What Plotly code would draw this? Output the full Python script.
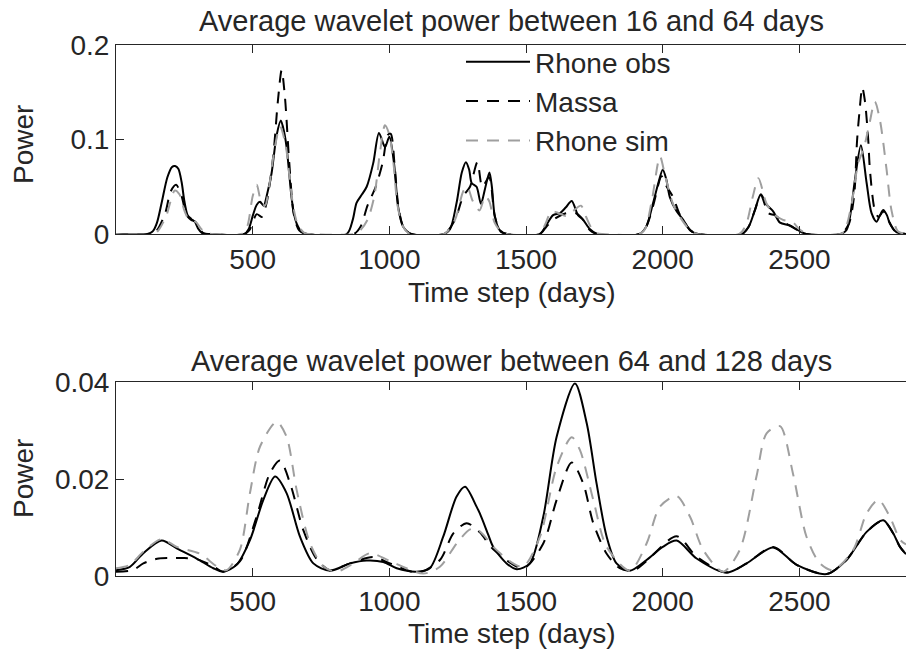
import plotly.graph_objects as go

# ---------------- data: top panel (16-64 days) ----------------
top_obs_day = [0, 115, 135, 150, 167, 188, 205, 216, 228, 240, 250, 262, 275, 288, 300, 315, 335,
               470, 485, 501, 515, 527, 540, 555, 569, 588, 603, 615, 624, 635, 642, 652, 661, 680, 700,
               844, 866, 880, 900, 917, 941, 962, 984, 1000, 1017, 1032, 1050, 1080,
               1200, 1222, 1246, 1265, 1280, 1292, 1301, 1319, 1335, 1350, 1366, 1375, 1386, 1404, 1430,
               1550, 1575, 1599, 1624, 1645, 1667, 1690, 1709, 1734, 1760,
               1915, 1940, 1965, 1985, 2000, 2013, 2026, 2051, 2075, 2100, 2130,
               2290, 2315, 2337, 2359, 2380, 2404, 2429, 2465, 2495, 2525,
               2650, 2672, 2685, 2703, 2725, 2746, 2764, 2782, 2795, 2807, 2820, 2831, 2855, 2890]
top_obs_val = [0, 0, 0.003, 0.012, 0.033, 0.06, 0.071, 0.072, 0.069, 0.055, 0.035, 0.02, 0.016, 0.013, 0.006, 0.001, 0,
               0, 0.005, 0.02, 0.031, 0.034, 0.03, 0.045, 0.064, 0.105, 0.12, 0.108, 0.092, 0.06, 0.039, 0.02, 0.011, 0.002, 0,
               0, 0.015, 0.033, 0.042, 0.05, 0.075, 0.107, 0.092, 0.103, 0.075, 0.029, 0.008, 0,
               0, 0.005, 0.033, 0.065, 0.076, 0.068, 0.054, 0.05, 0.032, 0.048, 0.065, 0.05, 0.018, 0.004, 0,
               0, 0.01, 0.02, 0.022, 0.028, 0.035, 0.02, 0.015, 0.005, 0,
               0, 0.008, 0.033, 0.055, 0.068, 0.058, 0.039, 0.024, 0.015, 0.004, 0,
               0, 0.008, 0.025, 0.042, 0.031, 0.024, 0.012, 0.009, 0.004, 0,
               0, 0.004, 0.018, 0.057, 0.094, 0.054, 0.022, 0.013, 0.02, 0.0254, 0.02, 0.011, 0.002, 0]

top_massa_day = [0, 130, 150, 180, 200, 220, 240, 258, 275, 290, 305, 320, 340,
                 470, 490, 515, 533, 551, 575, 592, 606, 618, 634, 651, 670, 700,
                 870, 895, 920, 950, 975, 995, 1005, 1020, 1035, 1055, 1080,
                 1200, 1240, 1270, 1295, 1322, 1340, 1365, 1385, 1405, 1430,
                 1550, 1575, 1599, 1646, 1683, 1709, 1734, 1760,
                 1915, 1940, 1965, 1996, 2015, 2038, 2060, 2080, 2105, 2130,
                 2290, 2315, 2337, 2359, 2387, 2410, 2440, 2470, 2500, 2525,
                 2650, 2680, 2700, 2711, 2720, 2730, 2740, 2752, 2758, 2776, 2790, 2807, 2825, 2850, 2890]
top_massa_val = [0, 0, 0.004, 0.022, 0.045, 0.052, 0.04, 0.02, 0.015, 0.013, 0.006, 0.001, 0,
                 0, 0.005, 0.021, 0.018, 0.033, 0.082, 0.14, 0.1735, 0.145, 0.075, 0.02, 0.004, 0,
                 0, 0.008, 0.03, 0.05, 0.075, 0.105, 0.106, 0.07, 0.025, 0.005, 0,
                 0, 0.015, 0.04, 0.05, 0.076, 0.05, 0.06, 0.02, 0.003, 0,
                 0, 0.008, 0.015, 0.022, 0.022, 0.015, 0.004, 0,
                 0, 0.008, 0.03, 0.061, 0.05, 0.039, 0.022, 0.012, 0.003, 0,
                 0, 0.008, 0.025, 0.041, 0.022, 0.02, 0.013, 0.008, 0.003, 0,
                 0, 0.01, 0.04, 0.099, 0.13, 0.155, 0.14, 0.099, 0.068, 0.025, 0.018, 0.024, 0.015, 0.003, 0]

top_sim_day = [0, 140, 160, 185, 200, 215, 232, 250, 265, 280, 295, 310, 330, 350,
               460, 480, 500, 515, 530, 545, 560, 580, 600, 620, 635, 648, 665, 690, 710,
               870, 890, 920, 945, 965, 984, 1000, 1015, 1030, 1050, 1075,
               1200, 1240, 1270, 1285, 1305, 1330, 1350, 1365, 1385, 1410, 1430,
               1550, 1570, 1593, 1620, 1646, 1675, 1701, 1720, 1740, 1760, 1780,
               1915, 1935, 1960, 1990, 2010, 2040, 2070, 2100, 2125,
               2280, 2305, 2330, 2350, 2380, 2410, 2440, 2477, 2500, 2530,
               2650, 2665, 2690, 2715, 2735, 2755, 2776, 2795, 2819, 2837, 2860, 2890]
top_sim_val = [0, 0, 0.006, 0.02, 0.035, 0.046, 0.042, 0.025, 0.016, 0.014, 0.012, 0.006, 0.001, 0,
               0, 0.008, 0.04, 0.052, 0.035, 0.03, 0.05, 0.09, 0.114, 0.095, 0.06, 0.03, 0.01, 0.001, 0,
               0, 0.003, 0.015, 0.04, 0.085, 0.115, 0.105, 0.075, 0.03, 0.008, 0,
               0, 0.015, 0.045, 0.05, 0.035, 0.025, 0.04, 0.035, 0.012, 0.002, 0,
               0, 0.01, 0.024, 0.022, 0.019, 0.025, 0.03, 0.018, 0.006, 0.001, 0,
               0, 0.005, 0.035, 0.082, 0.06, 0.03, 0.015, 0.004, 0,
               0, 0.01, 0.04, 0.059, 0.032, 0.02, 0.015, 0.012, 0.005, 0,
               0, 0.003, 0.03, 0.075, 0.09, 0.115, 0.14, 0.12, 0.068, 0.025, 0.003, 0]

# ---------------- data: bottom panel (64-128 days) ----------------
bot_obs_day = [0, 51, 100, 167, 222, 295, 356, 392, 441, 490, 539, 582, 624, 673, 722, 783, 856, 917, 978,
               1027, 1100, 1148, 1197, 1246, 1277, 1319, 1331, 1362, 1380, 1429, 1466, 1514, 1563, 1612,
               1679, 1722, 1758, 1795, 1831, 1880, 1941, 2000, 2051, 2124, 2233, 2307, 2404, 2490, 2600,
               2672, 2746, 2807, 2843, 2868, 2890]
bot_obs_val = [0.0012, 0.0019, 0.0047, 0.0073, 0.0057, 0.0036, 0.0016, 0.0009, 0.0023, 0.0074, 0.0157, 0.0205,
               0.0171, 0.0081, 0.0026, 0.0011, 0.0026, 0.0032, 0.0029, 0.0016, 0.0009, 0.0016, 0.0081, 0.0164,
               0.0184, 0.0143, 0.0129, 0.0085, 0.006, 0.0026, 0.0014, 0.0026, 0.0122, 0.0287, 0.0397, 0.0315,
               0.0191, 0.0081, 0.0026, 0.0011, 0.0033, 0.006, 0.0073, 0.0036, 0.0007, 0.0026, 0.0059, 0.0023,
               0.0004, 0.0033, 0.0091, 0.0115, 0.0088, 0.006, 0.0045]

bot_massa_day = [0, 62, 100, 156, 200, 250, 295, 356, 392, 453, 514, 563, 600, 637, 685, 734, 783, 856, 941,
                 1002, 1106, 1185, 1234, 1283, 1331, 1380, 1490, 1563, 1612, 1667, 1709, 1746, 1795, 1843,
                 1892, 1941, 2051, 2124, 2233, 2307, 2404, 2490, 2600, 2672, 2746, 2807, 2843, 2868, 2890]
bot_massa_val = [0.0009, 0.0012, 0.0026, 0.0036, 0.0037, 0.0037, 0.0035, 0.002, 0.0009, 0.003, 0.0122, 0.0212,
                 0.0238, 0.0191, 0.0095, 0.0035, 0.0012, 0.0026, 0.0039, 0.0026, 0.0007, 0.0033, 0.0088, 0.0109,
                 0.009, 0.0055, 0.0016, 0.0067, 0.0157, 0.0234, 0.0191, 0.0109, 0.0046, 0.0016, 0.0011, 0.0031,
                 0.0082, 0.004, 0.0007, 0.0026, 0.006, 0.0023, 0.0004, 0.0033, 0.0091, 0.0114, 0.0088, 0.006,
                 0.0045]

bot_sim_day = [0, 51, 100, 167, 222, 307, 368, 404, 453, 490, 527, 588, 624, 661, 710, 758, 807, 868, 929,
               1002, 1124, 1185, 1246, 1295, 1320, 1344, 1380, 1453, 1490, 1551, 1612, 1667, 1697, 1746,
               1795, 1880, 1941, 1990, 2051, 2100, 2148, 2221, 2282, 2343, 2380, 2429, 2477, 2526, 2575,
               2624, 2697, 2746, 2789, 2831, 2868, 2890]
bot_sim_val = [0.0016, 0.0023, 0.005, 0.0076, 0.006, 0.0046, 0.002, 0.0012, 0.0054, 0.0171, 0.0267, 0.0318,
               0.0287, 0.0177, 0.0067, 0.002, 0.0009, 0.0026, 0.0047, 0.0031, 0.0005, 0.0019, 0.0067, 0.0096,
               0.0096, 0.0085, 0.006, 0.0026, 0.0019, 0.0081, 0.0225, 0.0286, 0.026, 0.0157, 0.006, 0.0011,
               0.0067, 0.0143, 0.0165, 0.0122, 0.0054, 0.0009, 0.0054, 0.0205, 0.0294, 0.0309, 0.021, 0.0081,
               0.0026, 0.0012, 0.0054, 0.0129, 0.0157, 0.0122, 0.0075, 0.0065]

series_names = ["Rhone obs", "Massa", "Rhone sim"]
x_ticks = [500, 1000, 1500, 2000, 2500]
top_yticks = [0, 0.1, 0.2]
top_yticklabels = ["0", "0.1", "0.2"]
bot_yticks = [0, 0.02, 0.04]
bot_yticklabels = ["0", "0.02", "0.04"]
titles = ["Average wavelet power between 16 and 64 days",
          "Average wavelet power between 64 and 128 days"]

# ---------------- styling ----------------
FONT = "Liberation Sans, Arial, Helvetica, sans-serif"
TXT = "#262626"
FS = 28
FS_T = 29
styles = [dict(color="#000000", width=2, dash="solid"),
          dict(color="#000000", width=2, dash="12px,9px"),
          dict(color="#9f9f9f", width=2, dash="12px,9px")]

fig = go.Figure()
top = [(top_obs_day, top_obs_val), (top_massa_day, top_massa_val), (top_sim_day, top_sim_val)]
bot = [(bot_obs_day, bot_obs_val), (bot_massa_day, bot_massa_val), (bot_sim_day, bot_sim_val)]
for i, (d, v) in enumerate(top):
    fig.add_trace(go.Scatter(x=d, y=v, mode="lines", name=series_names[i], line=dict(shape="spline", smoothing=0.8, **styles[i]),
                             xaxis="x", yaxis="y", showlegend=True))
for i, (d, v) in enumerate(bot):
    fig.add_trace(go.Scatter(x=d, y=v, mode="lines", name=series_names[i], line=dict(shape="spline", smoothing=0.8, **styles[i]),
                             xaxis="x2", yaxis="y2", showlegend=False))

axis_common = dict(showgrid=False, zeroline=False, showline=True, linecolor=TXT, linewidth=1, automargin=False,
                   ticks="inside", ticklen=8, tickcolor=TXT, tickfont=dict(family=FONT, size=FS, color=TXT))

H_PLOT = 531.0
def py(ypix):
    return (576 - ypix) / H_PLOT

def px(xpix):
    return (xpix - 116) / 790.0

fig.update_layout(
    width=906, height=649,
    margin=dict(l=116, r=0, t=45, b=73, autoexpand=False),
    paper_bgcolor="white", plot_bgcolor="white",
    font=dict(family=FONT, size=FS, color=TXT),
    xaxis=dict(domain=[0, 1], range=[0, 2890], tickvals=x_ticks, anchor="y", mirror="ticks", **axis_common),
    yaxis=dict(domain=[py(234), 1], range=[0, 0.2], tickvals=top_yticks, ticktext=top_yticklabels,
               anchor="x", **axis_common),
    xaxis2=dict(domain=[0, 1], range=[0, 2890], tickvals=x_ticks, anchor="y2", mirror="ticks", **axis_common),
    yaxis2=dict(domain=[0, py(382)], range=[0, 0.04], tickvals=bot_yticks, ticktext=bot_yticklabels,
                anchor="x2", **axis_common),
    legend=dict(x=px(461), y=py(37), xanchor="left", yanchor="top", bgcolor="rgba(0,0,0,0)",
                font=dict(family=FONT, size=FS, color=TXT), itemwidth=64, tracegroupgap=0),
    showlegend=True,
)

ann = [
    dict(text=titles[0], x=0.5, y=py(21), size=FS_T),
    dict(text=titles[1], x=0.5, y=py(361), size=FS_T),
    dict(text="Time step (days)", x=0.5, y=py(292), size=FS),
    dict(text="Time step (days)", x=0.5, y=py(633), size=FS),
    dict(text="Power", x=px(23), y=py(145), size=FS, textangle=-90),
    dict(text="Power", x=px(23), y=py(479), size=FS, textangle=-90),
]
annotations = []
for a in ann:
    s = a.pop("size")
    a.update(xref="paper", yref="paper", xanchor="center", yanchor="middle", showarrow=False,
             font=dict(family=FONT, size=s, color=TXT))
    annotations.append(a)
fig.update_layout(annotations=annotations)

# remove the default 8px page margin so the figure sits at the window origin
fig.write_html("out.html", config={"displayModeBar": False},
               post_script="document.body.style.margin='0px';document.body.style.overflow='hidden';")
